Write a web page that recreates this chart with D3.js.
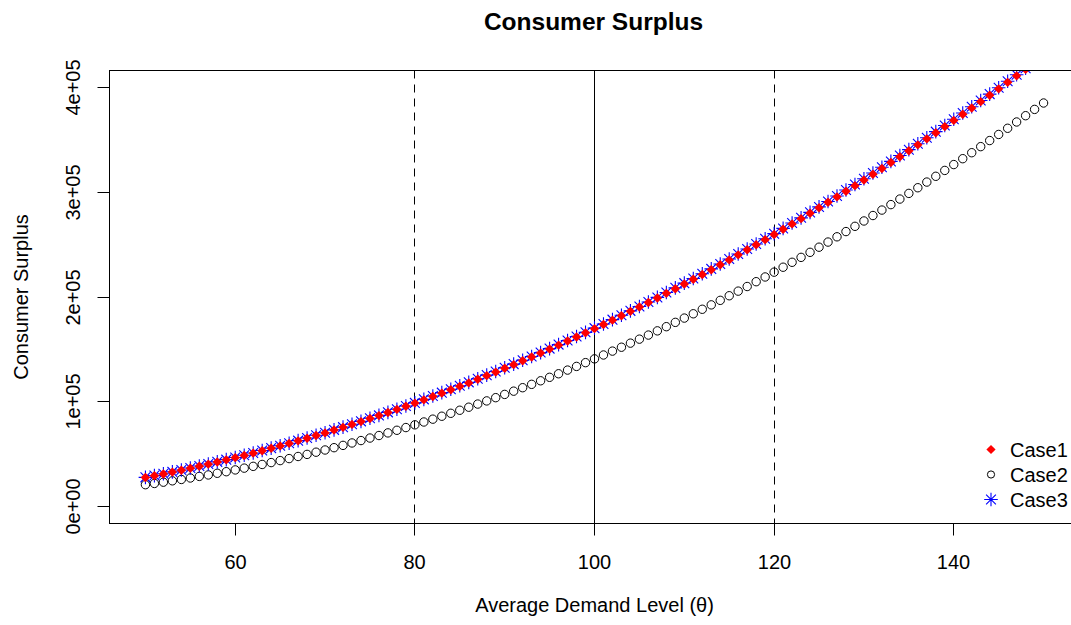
<!DOCTYPE html>
<html>
<head>
<meta charset="utf-8">
<script src="https://cdn.jsdelivr.net/npm/d3@7"></script>
<style>
    html, body { margin: 0; padding: 0; background: #fff; }
    svg text { font-family: "Liberation Sans", Arial, sans-serif; fill: #000; }
</style>
</head>
<body>
<div id="chart"></div>
<script>

const theta = [
    50, 51, 52, 53, 54, 55, 56, 57, 58, 59, 60, 61, 62, 63, 64, 65, 66, 67, 68, 69,
    70, 71, 72, 73, 74, 75, 76, 77, 78, 79, 80, 81, 82, 83, 84, 85, 86, 87, 88, 89,
    90, 91, 92, 93, 94, 95, 96, 97, 98, 99, 100, 101, 102, 103, 104, 105, 106, 107, 108, 109,
    110, 111, 112, 113, 114, 115, 116, 117, 118, 119, 120, 121, 122, 123, 124, 125, 126, 127, 128, 129,
    130, 131, 132, 133, 134, 135, 136, 137, 138, 139, 140, 141, 142, 143, 144, 145, 146, 147, 148, 149, 150
];

const case1 = [
    27800, 29500, 31200, 33000, 34800, 36700, 38600, 40600, 42600, 44700,
    46800, 48900, 51100, 53400, 55700, 58000, 60400, 62800, 65300, 67900,
    70400, 73100, 75700, 78500, 81200, 84100, 86900, 89800, 92800, 95800,
    98800, 101900, 105100, 108300, 111500, 114800, 118100, 121500, 125000, 128400,
    132000, 135500, 139200, 142800, 146500, 150300, 154100, 158000, 161900, 165800,
    169800, 173800, 177900, 182100, 186300, 190500, 194800, 199100, 203500, 207900,
    212400, 216900, 221400, 226000, 230700, 235400, 240200, 245000, 249800, 254700,
    259600, 264600, 269700, 274700, 279900, 285100, 290300, 295500, 300900, 306200,
    311600, 317100, 322600, 328200, 333800, 339400, 345100, 350800, 356600, 362500,
    368400, 374300, 380300, 386300, 392400, 398500, 404700, 410900, 417100, 423400, 429800
];

const case2 = [
    21000, 22200, 23400, 24700, 26000, 27400, 28900, 30300, 31900, 33400,
    35100, 36800, 38500, 40300, 42100, 44000, 45900, 47900, 49900, 52000,
    54100, 56300, 58500, 60800, 63100, 65500, 67900, 70400, 72900, 75500,
    78100, 80800, 83500, 86300, 89100, 92000, 94900, 97900, 100900, 104000,
    107100, 110200, 113500, 116700, 120100, 123400, 126800, 130300, 133800, 137400,
    141000, 144700, 148400, 152100, 156000, 159800, 163700, 167700, 171700, 175800,
    179900, 184000, 188300, 192500, 196800, 201200, 205600, 210000, 214600, 219100,
    223700, 228400, 233100, 237800, 242600, 247500, 252400, 257400, 262400, 267400,
    272500, 277700, 282900, 288100, 293400, 298800, 304200, 309600, 315100, 320700,
    326300, 331900, 337600, 343400, 349200, 355000, 360900, 366900, 372900, 378900, 385000
];

const case3 = [
    28000, 29700, 31400, 33200, 35000, 36900, 38800, 40800, 42800, 44900,
    47000, 49100, 51300, 53600, 55900, 58200, 60600, 63000, 65500, 68100,
    70600, 73300, 75900, 78700, 81400, 84300, 87100, 90000, 93000, 96000,
    99000, 102400, 105600, 108800, 112000, 115300, 118600, 122000, 125500, 128900,
    132500, 136000, 139700, 143300, 147000, 150800, 154600, 158500, 162400, 166300,
    170300, 174300, 178400, 182600, 186800, 191000, 195300, 199600, 204300, 208700,
    213200, 217700, 222200, 226800, 231500, 236200, 241000, 245800, 250600, 255500,
    260400, 265400, 270500, 275500, 280700, 285900, 291100, 296300, 302000, 307300,
    312700, 318200, 323700, 329300, 334900, 340500, 346200, 351900, 357700, 363600,
    369500, 375400, 381400, 387400, 393500, 399600, 405800, 412000, 418200, 424500, 430900
];

const xTicks = [60, 80, 100, 120, 140];
const yTicks = [0, 100000, 200000, 300000, 400000];
const yTickLabels = ['0e+00', '1e+05', '2e+05', '3e+05', '4e+05'];
const refLines = [80, 100, 120];
const refDashed = [true, false, true];
const legendLabels = ['Case1', 'Case2', 'Case3'];


const width = 1071;
const height = 625;
const plot = { left: 109.5, top: 70.5, right: 1079.5, bottom: 523.5 };

const svg = d3.select('#chart')
    .append('svg')
    .attr('width', width)
    .attr('height', height);

/*
 * R style limits: data range padded by 4% on both sides.
 */
const xScale = d3.scaleLinear()
    .domain([46, 154])
    .range([plot.left, plot.right]);

const yScale = d3.scaleLinear()
    .domain([-16000, 416000])
    .range([plot.bottom, plot.top]);

// snap hairlines onto a pixel centre so they stay black
const crisp = v => Math.round(v - 0.5) + 0.5;

svg.append('defs')
    .append('clipPath')
    .attr('id', 'clip')
    .append('rect')
    .attr('x', plot.left)
    .attr('y', plot.top)
    .attr('width', plot.right - plot.left)
    .attr('height', plot.bottom - plot.top);


/*
 * Point symbols, roughly R's pch 18, 1 and 8.
 */
function diamond(g, size) {
    g.append('path')
        .attr('d', 'M0,' + (-size) + 'L' + size + ',0L0,' + size + 'L' + (-size) + ',0Z')
        .attr('fill', '#ff0000');
}

function circle(g, r) {
    g.append('circle')
        .attr('r', r)
        .attr('fill', 'none')
        .attr('stroke', '#000')
        .attr('stroke-width', 1);
}

function asterisk(g, s) {
    var d = s * 0.72;
    g.append('path')
        .attr('d', 'M' + (-s) + ',0H' + s + 'M0,' + (-s) + 'V' + s +
            'M' + (-d) + ',' + (-d) + 'L' + d + ',' + d +
            'M' + (-d) + ',' + d + 'L' + d + ',' + (-d))
        .attr('fill', 'none')
        .attr('stroke', '#0000ff')
        .attr('stroke-width', 1.1);
}

const series = [
    { values: case2, draw: g => circle(g, 4.2) },
    { values: case3, draw: g => asterisk(g, 6.8) },
    { values: case1, draw: g => diamond(g, 4.7) }
];

const canvas = svg.append('g')
    .attr('clip-path', 'url(#clip)');

/*
 * Reference lines at the three demand levels.
 */
canvas.selectAll('line.ref')
    .data(refLines)
    .enter()
    .append('line')
    .attr('class', 'ref')
    .attr('x1', d => crisp(xScale(d)))
    .attr('x2', d => crisp(xScale(d)))
    .attr('y1', plot.top)
    .attr('y2', plot.bottom)
    .attr('stroke', '#000')
    .attr('stroke-width', 1)
    .attr('stroke-dasharray', (d, i) => refDashed[i] ? '8,6' : null);

series.forEach(function(s) {
    canvas.append('g')
        .selectAll('g')
        .data(theta)
        .enter()
        .append('g')
        .attr('transform', (d, i) => 'translate(' + [xScale(d), yScale(s.values[i])] + ')')
        .each(function() {
            s.draw(d3.select(this));
        });
});

/*
 * Plot box.
 */
svg.append('rect')
    .attr('x', plot.left)
    .attr('y', plot.top)
    .attr('width', plot.right - plot.left)
    .attr('height', plot.bottom - plot.top)
    .attr('fill', 'none')
    .attr('stroke', '#000')
    .attr('stroke-width', 1);

/*
 * Axes.
 */
const xAxis = svg.append('g')
    .attr('transform', 'translate(0,' + plot.bottom + ')')
    .call(d3.axisBottom(xScale).tickValues(xTicks).tickSize(12).tickSizeOuter(0));

xAxis.select('.domain').remove();
xAxis.selectAll('.tick')
    .attr('transform', d => 'translate(' + crisp(xScale(d)) + ',0)');
xAxis.selectAll('line').attr('stroke', '#000');
xAxis.selectAll('text')
    .attr('y', 45)
    .attr('dy', null)
    .style('font-size', '20px');

const yAxis = svg.append('g')
    .attr('transform', 'translate(' + plot.left + ',0)')
    .call(d3.axisLeft(yScale)
        .tickValues(yTicks)
        .tickFormat((d, i) => yTickLabels[i])
        .tickSize(12)
        .tickSizeOuter(0));

yAxis.select('.domain').remove();
yAxis.selectAll('.tick')
    .attr('transform', d => 'translate(0,' + crisp(yScale(d)) + ')');
yAxis.selectAll('line').attr('stroke', '#000');
yAxis.selectAll('text')
    .attr('transform', 'rotate(-90)')
    .attr('x', 0)
    .attr('y', -29.5)
    .attr('dy', null)
    .attr('text-anchor', 'middle')
    .style('font-size', '20px');

/*
 * Titles.
 */
svg.append('text')
    .attr('x', (plot.left + plot.right) / 2 - 1)
    .attr('y', 30)
    .attr('text-anchor', 'middle')
    .style('font-size', '24.5px')
    .style('font-weight', 'bold')
    .text('Consumer Surplus');

svg.append('text')
    .attr('x', (plot.left + plot.right) / 2)
    .attr('y', 612)
    .attr('text-anchor', 'middle')
    .style('font-size', '20px')
    .text('Average Demand Level (θ)');

svg.append('text')
    .attr('transform', 'translate(28,' + ((plot.top + plot.bottom) / 2) + ') rotate(-90)')
    .attr('text-anchor', 'middle')
    .style('font-size', '20px')
    .text('Consumer Surplus');

/*
 * Legend, no box.
 */
const legendDraw = [g => diamond(g, 4.6), g => circle(g, 3.6), g => asterisk(g, 6.8)];

const legend = svg.append('g')
    .selectAll('g')
    .data(legendLabels)
    .enter()
    .append('g')
    .attr('transform', (d, i) => 'translate(991,' + (449.5 + i * 25) + ')');

legend.each(function(d, i) {
    legendDraw[i](d3.select(this));
});

legend.append('text')
    .attr('x', 19)
    .attr('y', 7)
    .style('font-size', '20px')
    .text(d => d);

</script>
</body>
</html>
